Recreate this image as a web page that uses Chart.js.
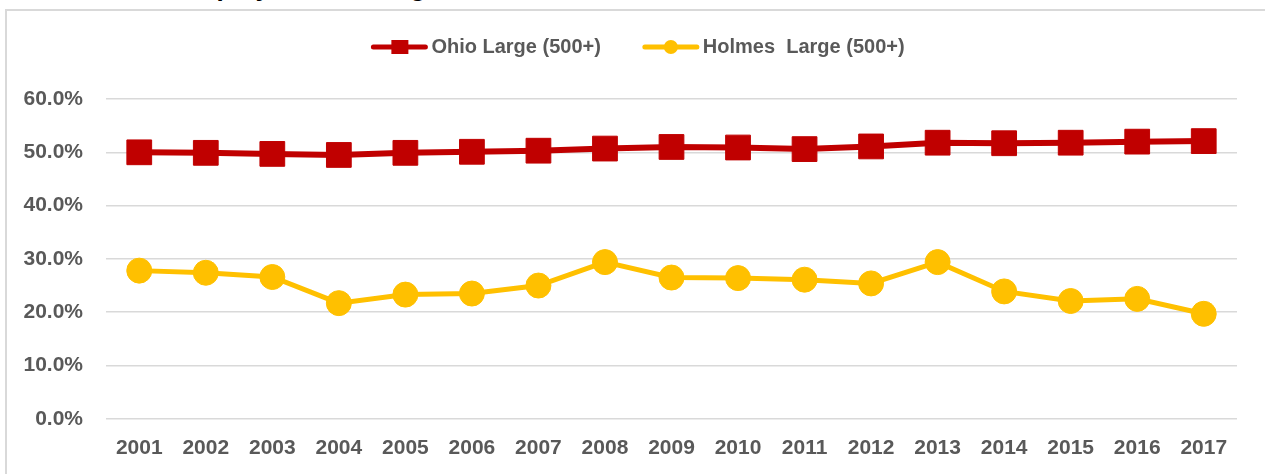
<!DOCTYPE html>
<html>
<head>
<meta charset="utf-8">
<title>Ohio vs Holmes - Large employers</title>
<script src="https://cdn.jsdelivr.net/npm/chart.js@4.4.0/dist/chart.umd.min.js"></script>
<style>
  html, body { margin: 0; padding: 0; background: #fff; overflow: hidden; }
  body { width: 1265px; height: 474px; position: relative; }
  /* title is cut off by the top edge in the reference, only descenders show */
  .title { position: absolute; left: 176px; top: -26px; font: bold 26px "Liberation Sans", Arial, sans-serif; line-height: 26px; color: #000; white-space: nowrap; }
  .frame { position: absolute; left: 5px; top: 9px; width: 1320px; height: 520px; border: 2px solid #d9d9d9; box-sizing: border-box; }
  #chart { position: absolute; left: 0; top: -5px; }
</style>
</head>
<body>
<div class="title">Employment in Large Firms</div>
<div class="frame"></div>
<canvas id="chart" width="1265" height="498"></canvas>
<script>
// Data (percent of employment)
const years = ['2001', '2002', '2003', '2004', '2005', '2006', '2007', '2008', '2009',
               '2010', '2011', '2012', '2013', '2014', '2015', '2016', '2017'];
const ohioLarge = [50.0, 49.9, 49.7, 49.5, 49.9, 50.1, 50.3, 50.7, 51.0,
                   50.9, 50.6, 51.1, 51.8, 51.7, 51.8, 52.0, 52.1];
const holmesLarge = [27.8, 27.4, 26.6, 21.7, 23.3, 23.5, 25.0, 29.4, 26.5,
                     26.4, 26.1, 25.4, 29.4, 23.9, 22.1, 22.5, 19.7];
const seriesNames = ['Ohio Large (500+)', 'Holmes  Large (500+)'];
const yMin = 0, yMax = 60, yStep = 10;

const ctx = document.getElementById('chart');
const tickColor = '#595959';

Chart.defaults.font.family = '"Liberation Sans", Arial, sans-serif';

// Excel style legend: line with the marker on it
const legendMarkers = {
  id: 'legendMarkers',
  afterDraw(chart) {
    const boxes = chart.legend.legendHitBoxes;
    const c = chart.ctx;
    chart.data.datasets.forEach((ds, i) => {
      const b = boxes[i];
      if (!b) return;
      const cy = b.top + b.height / 2;
      c.save();
      c.strokeStyle = ds.borderColor;
      c.lineWidth = 5;
      c.lineCap = 'round';
      c.beginPath();
      c.moveTo(b.left + 2, cy);
      c.lineTo(b.left + 54, cy);
      c.stroke();
      c.fillStyle = ds.borderColor;
      if (ds.pointStyle === 'rect') {
        c.fillRect(b.left + 20, cy - 7, 17, 14);
      } else {
        c.beginPath();
        c.arc(b.left + 28, cy, 7, 0, Math.PI * 2);
        c.fill();
      }
      c.restore();
    });
  }
};

// extra room between legend and plot area, and nudge legend to the right
const legendGap = {
  id: 'legendGap',
  beforeLayout(chart) {
    const lg = chart.legend;
    if (!lg || lg._gapPatched) return;
    const fit = lg.fit;
    lg.fit = function () { fit.call(this); this.height += 32; };
    lg._gapPatched = true;
  },
  afterLayout(chart) {
    chart.legend.left += 19.5;
    chart.legend.right += 19.5;
  }
};

new Chart(ctx, {
  type: 'line',
  data: {
    labels: years,
    datasets: [
      {
        label: seriesNames[0],
        data: ohioLarge,
        borderColor: '#C00000',
        backgroundColor: '#C00000',
        borderWidth: 6,
        pointStyle: 'rect',
        pointRadius: 17.5,
        pointBorderWidth: 1,
        pointHoverRadius: 17.5,
        tension: 0
      },
      {
        label: seriesNames[1],
        data: holmesLarge,
        borderColor: '#FFC000',
        backgroundColor: '#FFC000',
        borderWidth: 5,
        pointStyle: 'circle',
        pointRadius: 12.5,
        pointBorderWidth: 1,
        pointHoverRadius: 12.5,
        tension: 0
      }
    ]
  },
  options: {
    responsive: false,
    animation: false,
    layout: { padding: { left: 0, right: 28, top: 0, bottom: 15 } },
    plugins: {
      tooltip: { enabled: false },
      legend: {
        position: 'top',
        align: 'center',
        labels: {
          boxWidth: 50,
          boxHeight: 20,
          padding: 42,
          color: tickColor,
          font: { size: 20, weight: 'bold' },
          generateLabels(chart) {
            const items = Chart.defaults.plugins.legend.labels.generateLabels(chart);
            items.forEach(it => {
              it.fillStyle = 'rgba(0,0,0,0)';
              it.strokeStyle = 'rgba(0,0,0,0)';
            });
            return items;
          }
        }
      }
    },
    scales: {
      x: {
        offset: true,
        grid: { display: false, drawTicks: false },
        border: { display: false },
        ticks: { color: tickColor, padding: 17, font: { size: 21, weight: 'bold' }, maxRotation: 0 }
      },
      y: {
        min: yMin,
        max: yMax,
        afterFit(scale) { scale.width = 106; },
        grid: { color: '#d9d9d9', lineWidth: 1.5, drawTicks: false },
        border: { display: false },
        ticks: {
          stepSize: yStep,
          color: tickColor,
          padding: 23,
          font: { size: 21, weight: 'bold' },
          callback: v => v.toFixed(1) + '%'
        }
      }
    }
  },
  plugins: [legendGap, legendMarkers]
});
</script>
</body>
</html>
